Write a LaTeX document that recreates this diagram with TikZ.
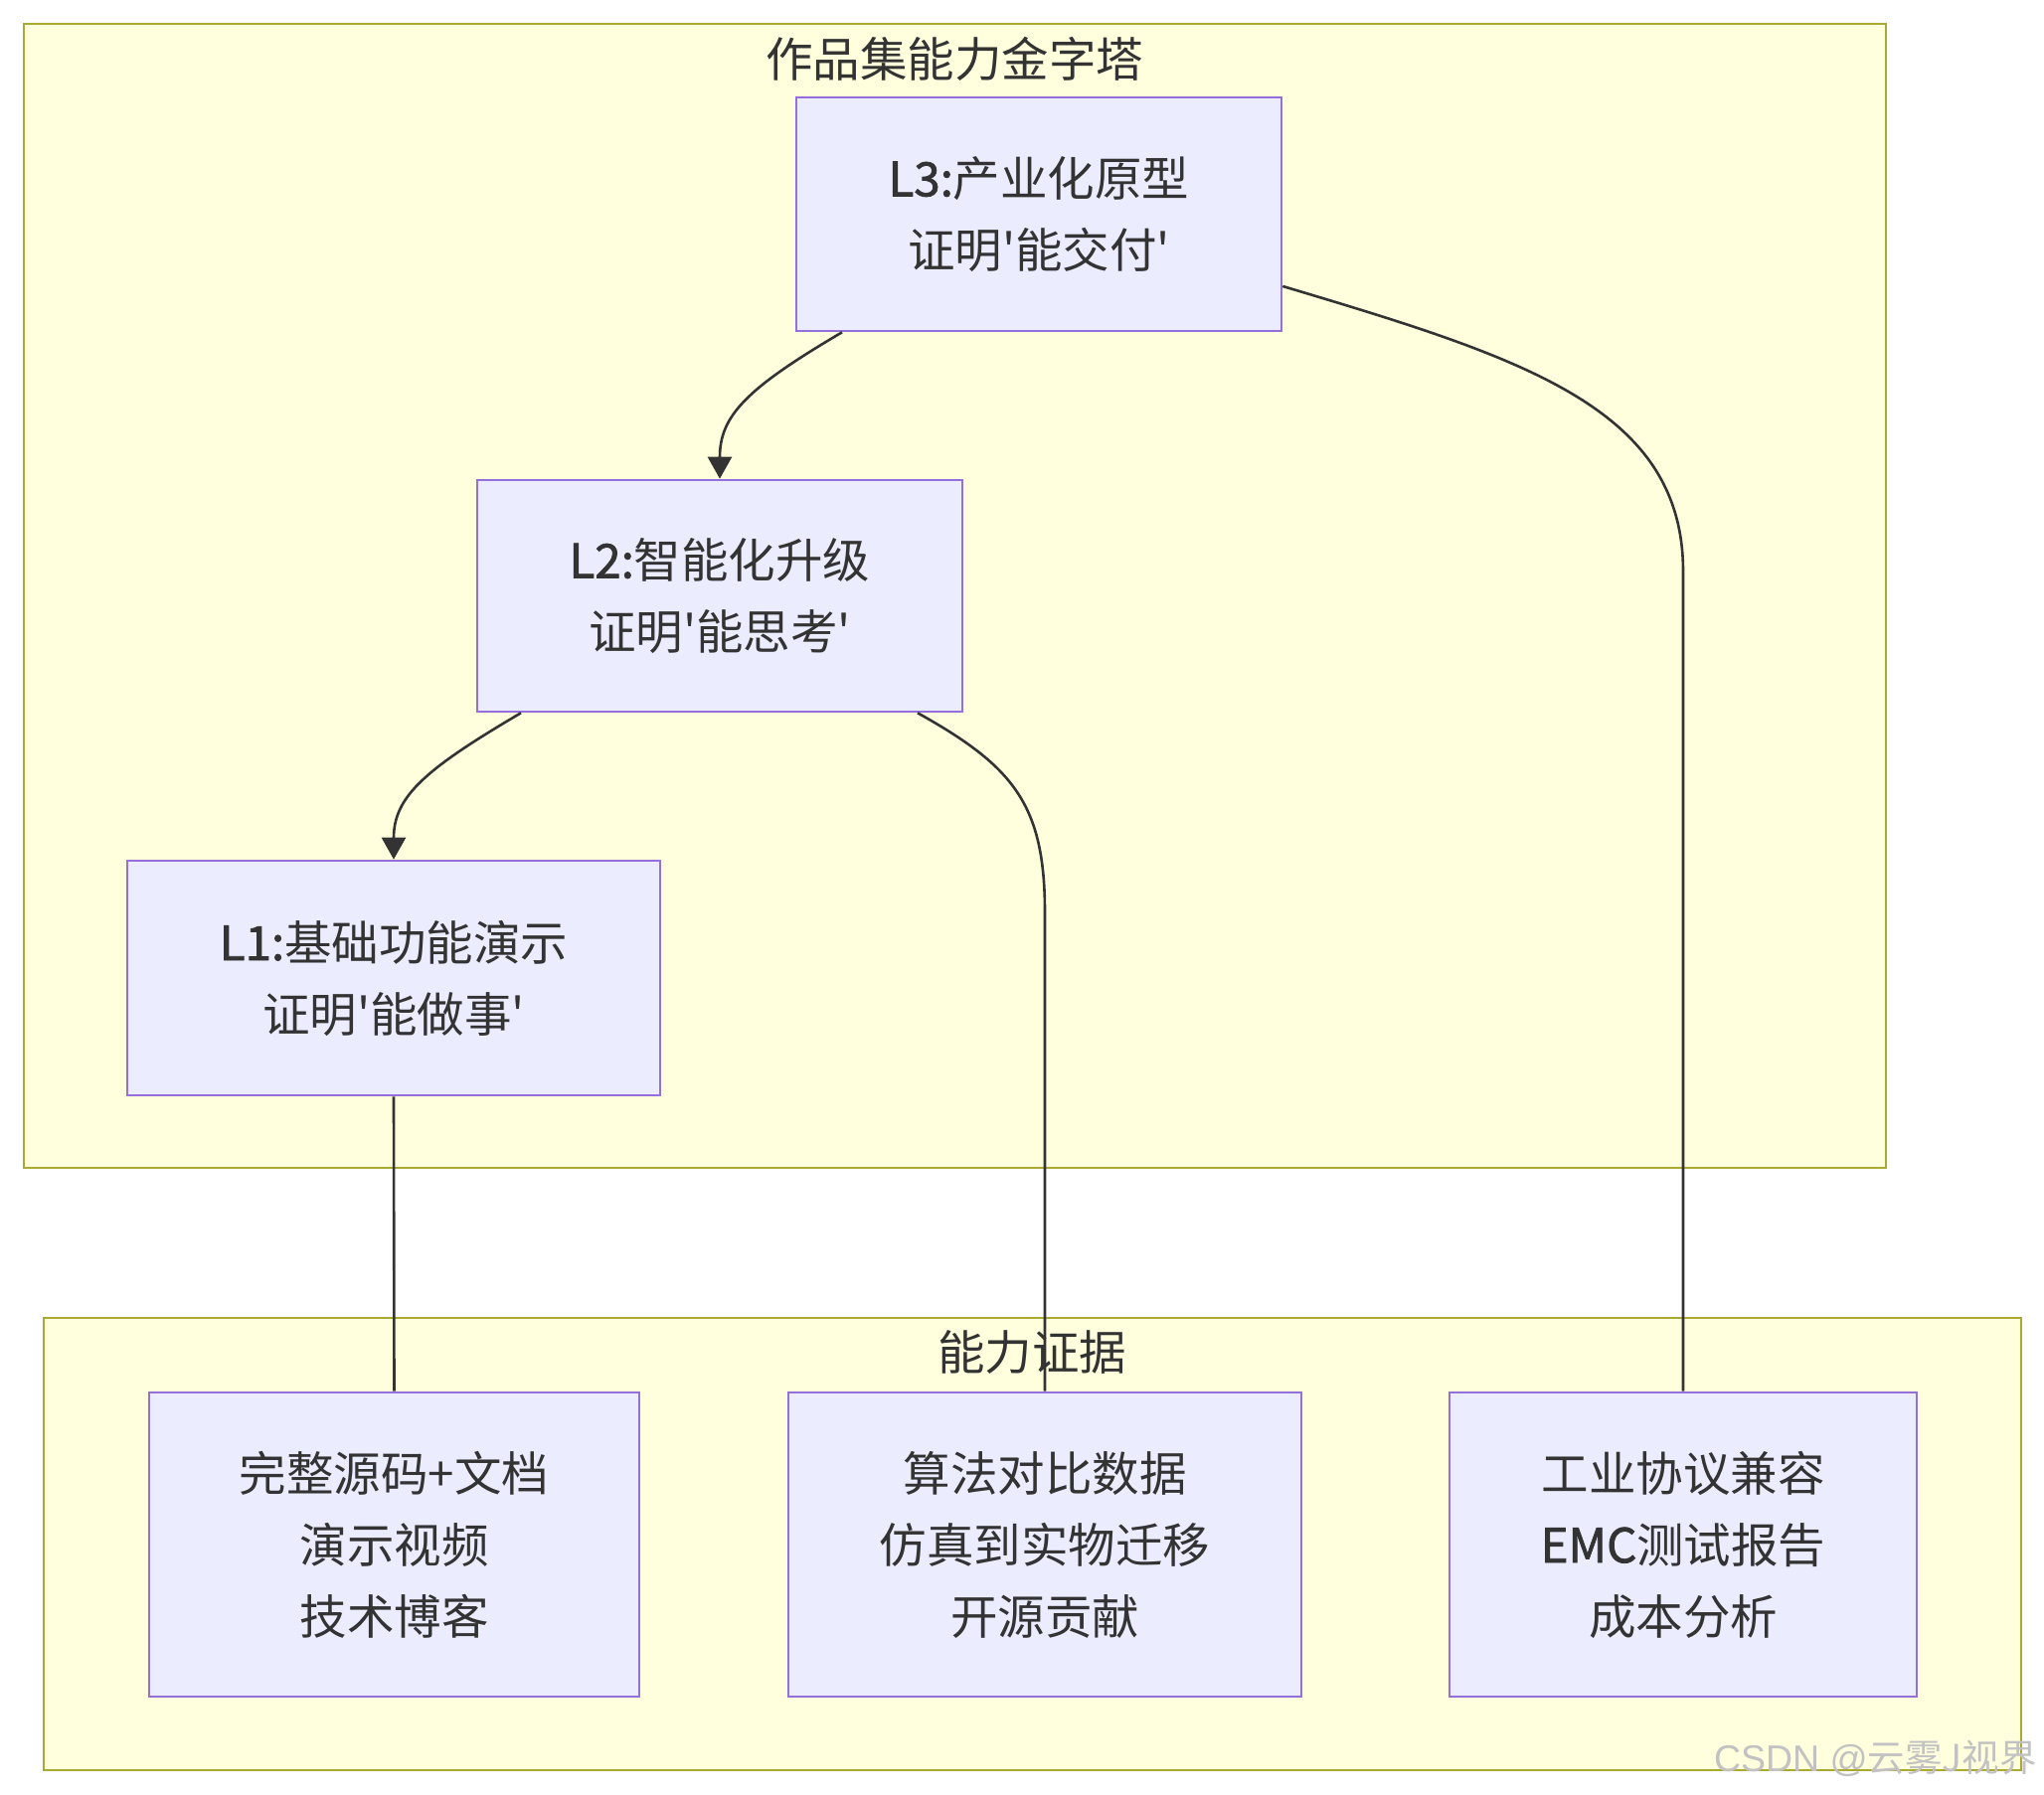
\documentclass[tikz,border=0pt]{standalone}
\usepackage{fontspec}
\newfontfamily\cjk{Noto Sans CJK SC}
\newfontfamily\cjkb{Noto Sans CJK SC}[FakeBold=1.6]
\newfontfamily\wmfont{Liberation Sans}
\usetikzlibrary{arrows.meta,calc}
\definecolor{clfill}{HTML}{FFFFDE}
\definecolor{cldraw}{HTML}{AAAA33}
\definecolor{ndfill}{HTML}{ECECFF}
\definecolor{nddraw}{HTML}{9370DB}
\definecolor{txt}{HTML}{333333}
\definecolor{wm}{HTML}{C2C2C2}
\tikzset{
  cluster/.style={fill=clfill,draw=cldraw,line width=2.6pt},
  box/.style={rectangle,fill=ndfill,draw=nddraw,line width=2.6pt,inner sep=0pt,align=center,
    text=txt,font=\cjk\fontsize{47.5}{72}\selectfont},
  title/.style={text=txt,font=\cjk\fontsize{47.5}{72}\selectfont,inner sep=0pt},
  link/.style={draw=txt,line width=2.6pt},
  arr/.style={link,-{Triangle[width=24pt,length=22pt]}}
}
\begin{document}
\begin{tikzpicture}[x=1pt,y=-1pt]
\useasboundingbox (0,0) rectangle (2056,1806);
\fill[white] (0,0) rectangle (2056,1806);
% clusters
\draw[cluster] (24,24) rectangle (1897,1175);
\node[title] (t1) at (960,59) {作品集能力金字塔};
\draw[cluster] (44,1326) rectangle (2033,1781);
\node[title] (t2) at (1038,1360) {能力证据};
% nodes
\node[box,minimum width=488pt,minimum height=235pt] (L3) at (1045,215.5) {{\cjkb L3:}产业化原型\\证明'能交付'};
\node[box,minimum width=488pt,minimum height=233pt] (L2) at (724,599.5) {{\cjkb L2:}智能化升级\\证明'能思考'};
\node[box,minimum width=536pt,minimum height=236pt] (L1) at (396,984) {{\cjkb L1:}基础功能演示\\证明'能做事'};
\node[box,minimum width=493pt,minimum height=306pt] (A) at (396.5,1554) {完整源码+文档\\演示视频\\技术博客};
\node[box,minimum width=516pt,minimum height=306pt] (B) at (1051,1554) {算法对比数据\\仿真到实物迁移\\开源贡献};
\node[box,minimum width=470pt,minimum height=306pt] (C) at (1693,1554) {工业协议兼容\\{\cjkb EMC}测试报告\\成本分析};
% helper coordinates
\coordinate (b1) at (1051,918);
\coordinate (c1) at (1693,575);
% edges
\draw[arr] ([xshift=-198pt]L3.south) .. controls +(-97,57) and +(0,-63) .. (L2.north);
\draw[arr] ([xshift=-200pt]L2.south) .. controls +(-97,57) and +(0,-63) .. (L1.north);
\draw[link] (L1.south) -- (A.north);
\draw[link] ([xshift=199pt]L2.south) .. controls +(97,54) and +(0,-108) .. (b1) -- (B.north);
\draw[link] ([yshift=-72.5pt]L3.east) .. controls +(241,72) and +(0,-165) .. (c1) -- (C.north);
% watermark
\node[anchor=east,inner sep=0pt,text=wm,font=\cjk\fontsize{37.5}{40}\selectfont] (wmk) at (2049,1769) {{\wmfont CSDN @}云雾J视界};
\end{tikzpicture}
\end{document}
